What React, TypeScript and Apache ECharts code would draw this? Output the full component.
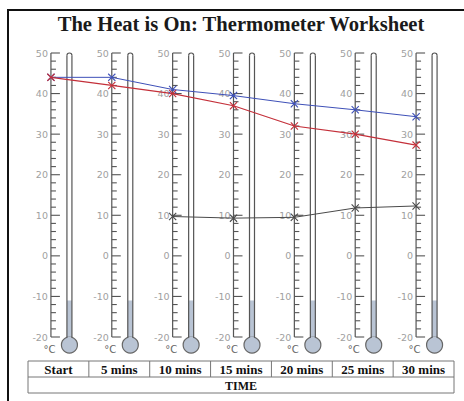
import React, { useEffect, useRef } from "react";
import * as echarts from "echarts";

const categories = ["Start", "5 mins", "10 mins", "15 mins", "20 mins", "25 mins", "30 mins"];
const blueTemps = [44, 44, 41, 39.5, 37.5, 36, 34.3];
const redTemps = [44, 42, 40, 37, 32, 30, 27.3];
const grayTemps: (number | null)[] = [null, null, 9.7, 9.3, 9.5, 11.8, 12.3];
const scaleLabels = [50, 40, 30, 20, 10, 0, -10, -20];
const scaleMin = -20;
const scaleMax = 50;
const liquidLevel = -11;
const axisTitle = "TIME";
const chartTitle = "The Heat is On: Thermometer Worksheet";

const GRID_LEFT = 28;
const GRID_RIGHT = 10;
const GRID_TOP = 53;
const GRID_BOTTOM = 64;
const W = 464;
const H = 401;

const XMARK = "path://M0,1 L1,0 L5,4 L9,0 L10,1 L6,5 L10,9 L9,10 L5,6 L1,10 L0,9 L4,5 Z";

export default function App() {
  const ref = useRef<HTMLDivElement>(null);
  useEffect(() => {
    if (!ref.current) return;
    const chart = echarts.init(ref.current, null, { renderer: "svg" });
    const n = categories.length;
    const gridW = W - GRID_LEFT - GRID_RIGHT;
    const colW = gridW / n;
    const offset = 7.5 / colW;
    const tableTop = 361;
    const rowH = 16;

    const renderItem = (params: any, api: any) => {
      const i = api.value(0);
      const p50 = api.coord([i, scaleMax]);
      const cx = p50[0];
      const yTop = p50[1];
      const yBot = api.coord([i, scaleMin])[1];
      const sx = cx - 7.5;
      const children: any[] = [];
      const ink = "#555";
      children.push({
        type: "line",
        shape: { x1: sx, y1: yTop, x2: sx, y2: yBot },
        style: { stroke: ink, lineWidth: 1.2 },
      });
      for (let v = scaleMin; v <= scaleMax; v += 2) {
        const y = api.coord([i, v])[1];
        const len = v % 10 === 0 ? 9 : 5;
        children.push({
          type: "line",
          shape: { x1: sx, y1: y, x2: sx + len, y2: y },
          style: { stroke: ink, lineWidth: 1.1 },
        });
      }
      scaleLabels.forEach((v) => {
        const y = api.coord([i, v])[1];
        children.push({
          type: "text",
          x: cx - 10.5,
          y: y,
          style: {
            text: String(v),
            fill: "#a0a0a0",
            font: "9.5px 'DejaVu Sans'",
            align: "right",
            verticalAlign: "middle",
          },
        });
      });
      const tubeL = cx + 8.5;
      const tubeR = cx + 13.5;
      const tubeC = (tubeL + tubeR) / 2;
      const bulbR = 8;
      const bulbY = yBot + 8;
      const half = (tubeR - tubeL) / 2;
      const wallBot = bulbY - Math.sqrt(bulbR * bulbR - half * half);
      const liqTop = api.coord([i, liquidLevel])[1];
      const liquid = "#b9c4d4";
      children.push({
        type: "rect",
        shape: { x: tubeL, y: yTop, width: tubeR - tubeL, height: wallBot - yTop },
        style: { fill: "#fff" },
      });
      children.push({
        type: "rect",
        shape: { x: tubeL, y: liqTop, width: tubeR - tubeL, height: bulbY - liqTop },
        style: { fill: liquid },
      });
      children.push({
        type: "circle",
        shape: { cx: tubeC, cy: bulbY, r: bulbR },
        style: { fill: liquid, stroke: "#666", lineWidth: 1.2 },
      });
      children.push({
        type: "rect",
        shape: { x: tubeL + 0.6, y: wallBot - 1, width: tubeR - tubeL - 1.2, height: 4 },
        style: { fill: liquid },
      });
      children.push({
        type: "line",
        shape: { x1: tubeL, y1: yTop + half, x2: tubeL, y2: wallBot },
        style: { stroke: ink, lineWidth: 1.2 },
      });
      children.push({
        type: "line",
        shape: { x1: tubeR, y1: yTop + half, x2: tubeR, y2: wallBot },
        style: { stroke: ink, lineWidth: 1.2 },
      });
      children.push({
        type: "arc",
        shape: { cx: tubeC, cy: yTop + half, r: half, startAngle: Math.PI, endAngle: 2 * Math.PI },
        style: { stroke: ink, fill: "none", lineWidth: 1.2 },
      });
      children.push({
        type: "text",
        x: cx - 9,
        y: bulbY + 4,
        style: {
          text: "°C",
          fill: "#666",
          font: "10px 'DejaVu Sans'",
          align: "center",
          verticalAlign: "middle",
        },
      });
      return { type: "group", children };
    };

    const graphics: any[] = [
      {
        type: "rect",
        shape: { x: 8, y: 10, width: 470, height: 420 },
        style: { fill: "none", stroke: "#111", lineWidth: 2 },
        z: 100,
      },
      {
        type: "rect",
        shape: { x: GRID_LEFT, y: tableTop, width: gridW, height: rowH * 2 },
        style: { fill: "none", stroke: "#777", lineWidth: 1 },
      },
      {
        type: "line",
        shape: { x1: GRID_LEFT, y1: tableTop + rowH, x2: GRID_LEFT + gridW, y2: tableTop + rowH },
        style: { stroke: "#777", lineWidth: 1 },
      },
      {
        type: "text",
        x: GRID_LEFT + gridW / 2,
        y: tableTop + rowH * 1.5 + 0.5,
        style: {
          text: axisTitle,
          fill: "#111",
          font: "bold 12px 'Liberation Serif'",
          align: "center",
          verticalAlign: "middle",
        },
      },
    ];
    for (let k = 1; k < n; k++) {
      const x = GRID_LEFT + k * colW;
      graphics.push({
        type: "line",
        shape: { x1: x, y1: tableTop, x2: x, y2: tableTop + rowH },
        style: { stroke: "#777", lineWidth: 1 },
      });
    }

    const lineSeries = (data: (number | null)[], color: string, width: number) => ({
      type: "line",
      xAxisIndex: 1,
      data: data.map((v, i) => [i, v]),
      connectNulls: false,
      symbol: XMARK,
      symbolSize: 8,
      itemStyle: { color },
      lineStyle: { color, width },
      z: 5,
    });

    chart.setOption({
      animation: false,
      backgroundColor: "#fff",
      title: {
        text: chartTitle,
        left: 236,
        top: 8,
        textAlign: "center",
        textStyle: { fontFamily: "'Liberation Serif'", fontWeight: "bold", fontSize: 20.6, color: "#1a1a1a" },
      },
      grid: { left: GRID_LEFT, right: GRID_RIGHT, top: GRID_TOP, bottom: GRID_BOTTOM, containLabel: false },
      xAxis: [
        {
          type: "category",
          data: categories,
          boundaryGap: true,
          axisLine: { show: false },
          axisTick: { show: false },
          splitLine: { show: false },
          axisLabel: {
            margin: 32,
            verticalAlign: "middle",
            fontFamily: "'Liberation Serif'",
            fontWeight: "bold",
            fontSize: 13,
            color: "#111",
            interval: 0,
          },
        },
        {
          type: "value",
          min: -0.5 + offset,
          max: n - 0.5 + offset,
          show: false,
        },
      ],
      yAxis: { type: "value", min: scaleMin, max: scaleMax, show: false },
      graphic: graphics,
      series: [
        {
          type: "custom",
          xAxisIndex: 0,
          data: categories.map((_, i) => [i]),
          renderItem,
          z: 1,
          silent: true,
        },
        lineSeries(blueTemps, "#3e50b8", 1),
        lineSeries(redTemps, "#c4303a", 1.2),
        lineSeries(grayTemps, "#4a4a4a", 1),
      ],
    });
    return () => chart.dispose();
  }, []);
  return <div ref={ref} style={{ position: "fixed", left: 0, top: 0, width: W, height: H }} />;
}
